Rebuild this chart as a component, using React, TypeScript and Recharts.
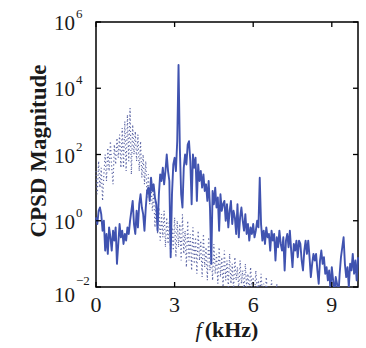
import React from 'react'
import { LineChart, Line, XAxis, YAxis, ReferenceArea, Label } from 'recharts'

const FREQ_STEP = 0.05 // kHz between samples
const xTicks = [0, 3, 6, 9]
const yTicks = [1e-2, 1, 1e2, 1e4, 1e6]

// log10 of the CPSD magnitude, solid trace, 0 .. 10 kHz
const solidLog = [
  0.1, -0.1, 0.3, 0.4, 0.2, -0.3, 0.0, -0.9, -0.4, -1.0,
  -0.2, -0.5, -0.9, -0.3, -0.6, -0.2, -1.3, -0.7, -0.1, -0.5,
  -0.3, -0.7, -0.4, -0.6, -0.2, -0.4, 0.0, 0.3, 0.6, -0.1,
  -0.4, 0.3, -0.2, 0.5, 0.8, 0.4, 0.2, -0.3, 0.4, 0.9,
  1.0, 0.6, 1.3, 0.9, 1.1, 0.7, 0.5, -0.3, 0.8, 1.4,
  1.2, 1.6, 1.1, 1.5, 2.0, 1.5, 1.2, -1.1, 0.8, 1.7,
  1.9, 1.5, 2.4, 4.7, 2.2, 0.8, 0.4, 1.6, 2.0, 1.7,
  2.3, 2.4, 1.8, 0.5, 2.0, 1.6, 1.9, 0.6, 1.7, 1.2,
  1.5, 1.0, 1.4, 0.9, 1.1, 0.6, 1.2, 0.4, -1.3, 0.9,
  0.5, 1.0, 0.4, 0.7, -0.3, 0.8, 0.3, 0.5, 0.6, 0.0,
  0.5, -0.2, 0.3, 0.6, -0.1, 0.3, 0.1, -0.4, 0.5, -0.5,
  0.1, 0.4, 0.0, -0.3, 0.2, -0.4, -0.1, -0.6, -0.2, -0.4,
  -0.1, -0.5, -0.3, 0.0, -0.2, 1.3, -0.1, -0.6, -0.3, -0.7,
  -0.2, -0.5, -0.4, -0.9, -0.3, -0.6, -0.4, -1.2, -0.5, -0.8,
  -0.3, -0.7, -0.9, -0.5, -1.5, -0.6, -0.4, -0.8, -0.3, -0.9,
  -1.4, -0.7, -0.9, -0.6, -1.1, -0.6, -0.7, -1.2, -1.5, -0.9,
  -0.6, -1.0, -0.6, -1.1, -1.7, -1.3, -1.0, -1.2, -1.0, -1.5,
  -1.9, -1.2, -0.9, -1.3, -1.1, -1.6, -1.4, -1.8, -1.5, -2.1,
  -1.4, -1.8, -2.2, -1.7, -1.9, -2.3, -1.6, -1.1, -0.8, -0.5,
  -1.3, -1.7, -1.4, -2.0, -1.3, -1.5, -1.0, -1.6, -1.2, -1.8,
  -1.1,
]

// log10 of the CPSD magnitude, dotted trace, 0 .. 7.95 kHz (below the axis after that)
const dottedLog = [
  1.5, 0.8, 1.8, 1.0, 1.6, 0.6, 1.4, 2.0, 1.2, 2.2,
  1.5, 2.4, 1.6, 1.1, 2.3, 1.7, 2.5, 1.9, 2.6, 1.6,
  2.8, 1.6, 3.0, 1.5, 3.2, 1.8, 3.4, 1.4, 2.9, 2.0,
  2.7, 1.8, 2.6, 1.5, 2.4, 1.3, 2.0, 1.1, 1.8, 0.7,
  1.4, 0.5, 1.2, 0.3, 0.9, -0.2, 0.6, -0.4, 0.4, -0.6,
  0.2, -0.5, 0.3, -0.8, 0.1, -0.7, 0.0, -1.0, -0.2, -0.9,
  0.1, -1.1, 0.0, -0.8, -0.1, -1.2, 0.2, -1.0, -0.3, -1.4,
  0.0, -1.2, -0.4, -1.5, -0.2, -1.3, -0.5, -1.6, -0.3, -1.2,
  -0.6, -1.7, -0.4, -1.4, -0.8, -1.8, -0.5, -1.5, -0.9, -1.8,
  -0.7, -1.6, -1.0, -1.9, -0.8, -1.7, -1.1, -2.0, -0.9, -1.8,
  -1.2, -2.0, -1.0, -1.9, -1.3, -2.1, -1.1, -1.8, -1.4, -2.1,
  -1.2, -1.9, -1.5, -2.2, -1.3, -2.0, -1.6, -2.2, -1.4, -2.0,
  -1.7, -2.3, -1.5, -2.1, -1.8, -2.3, -1.6, -2.2, -1.9, -2.4,
  -1.7, -2.3, -2.0, -2.4, -1.8, -2.4, -2.1, -2.5, -1.9, -2.5,
  -2.2, -2.6, -2.0, -2.5, -2.3, -2.7, -2.1, -2.6, -2.4, -2.8,
  -2.2, -2.7, -2.4, -2.8, -2.3, -2.7, -2.5, -2.9, -2.4, -2.8,
]

const data = solidLog.map((v, i) => ({
  f: Number((i * FREQ_STEP).toFixed(2)),
  solid: 10 ** v,
  dotted: i < dottedLog.length ? 10 ** dottedLog[i] : null,
}))

const LEFT = 96
const RIGHT = 358
const TOP = 22
const BOTTOM = 287
const FONT = "'Liberation Serif', 'Times New Roman', Times, serif"
const INK = '#1a1a1a'
const serif = { fontFamily: FONT }

const XTick = (props: any) => {
  const { x, payload } = props
  return (
    <g>
      <line x1={x} x2={x} y1={BOTTOM} y2={BOTTOM - 5} stroke="#000" strokeWidth={1.3} />
      <line x1={x} x2={x} y1={TOP} y2={TOP + 5} stroke="#000" strokeWidth={1.3} />
      <text x={x} y={312} textAnchor="middle" style={serif} fontSize={22} fill={INK}>
        {payload.value}
      </text>
    </g>
  )
}

const YTick = (props: any) => {
  const { y, payload } = props
  const exp = Math.round(Math.log10(payload.value))
  const base = exp === -2 ? y + 15 : y + 8
  const supBase = exp === -2 ? base - 17 : base - 12
  return (
    <g>
      <line x1={LEFT} x2={LEFT + 5} y1={y} y2={y} stroke="#000" strokeWidth={1.3} />
      <line x1={RIGHT} x2={RIGHT - 5} y1={y} y2={y} stroke="#000" strokeWidth={1.3} />
      <text x={75} y={base} textAnchor="end" style={serif} fontSize={21} fill={INK}>
        10
      </text>
      <text x={76} y={supBase} textAnchor="start" style={serif} fontSize={13} fill={INK}>
        {exp < 0 ? '\u2212' + -exp : exp}
      </text>
    </g>
  )
}

const YTitle = () => (
  <text
    x={46}
    y={151}
    transform="rotate(-90, 46, 151)"
    textAnchor="middle"
    style={serif}
    fontWeight="bold"
    fontSize={23}
    fill={INK}
  >
    CPSD Magnitude
  </text>
)

const XTitle = () => (
  <text x={227} y={337} textAnchor="middle" style={serif} fontSize={22} fill={INK}>
    <tspan fontStyle="italic">f</tspan>
    <tspan dx={3} fontWeight="bold">(kHz)</tspan>
  </text>
)

export default function App() {
  return (
    <div style={{ position: 'absolute', left: 0, top: 0, width: 366, height: 348, background: '#fff' }}>
      <LineChart width={366} height={348} data={data} margin={{ top: TOP, right: 366 - RIGHT, bottom: 0, left: 0 }}>
        <XAxis
          dataKey="f"
          type="number"
          domain={[0, 10]}
          ticks={xTicks}
          tick={<XTick />}
          tickLine={false}
          axisLine={false}
          height={348 - BOTTOM}
          interval={0}
        >
          <Label content={<XTitle />} />
        </XAxis>
        <YAxis
          type="number"
          scale="log"
          domain={[1e-2, 1e6]}
          ticks={yTicks}
          tick={<YTick />}
          tickLine={false}
          axisLine={false}
          width={LEFT}
          allowDataOverflow
          interval={0}
        >
          <Label content={<YTitle />} />
        </YAxis>
        <Line
          dataKey="dotted"
          type="linear"
          stroke="#5f68a6"
          strokeWidth={1.2}
          strokeDasharray="1.2 2.6"
          dot={false}
          activeDot={false}
          isAnimationActive={false}
        />
        <Line
          dataKey="solid"
          type="linear"
          stroke="#4053b0"
          strokeWidth={1.9}
          strokeLinejoin="round"
          dot={false}
          activeDot={false}
          isAnimationActive={false}
        />
        <ReferenceArea x1={0} x2={10} y1={1e-2} y2={1e6} fill="none" fillOpacity={0} stroke="#000" strokeWidth={1.5} />
      </LineChart>
    </div>
  )
}
